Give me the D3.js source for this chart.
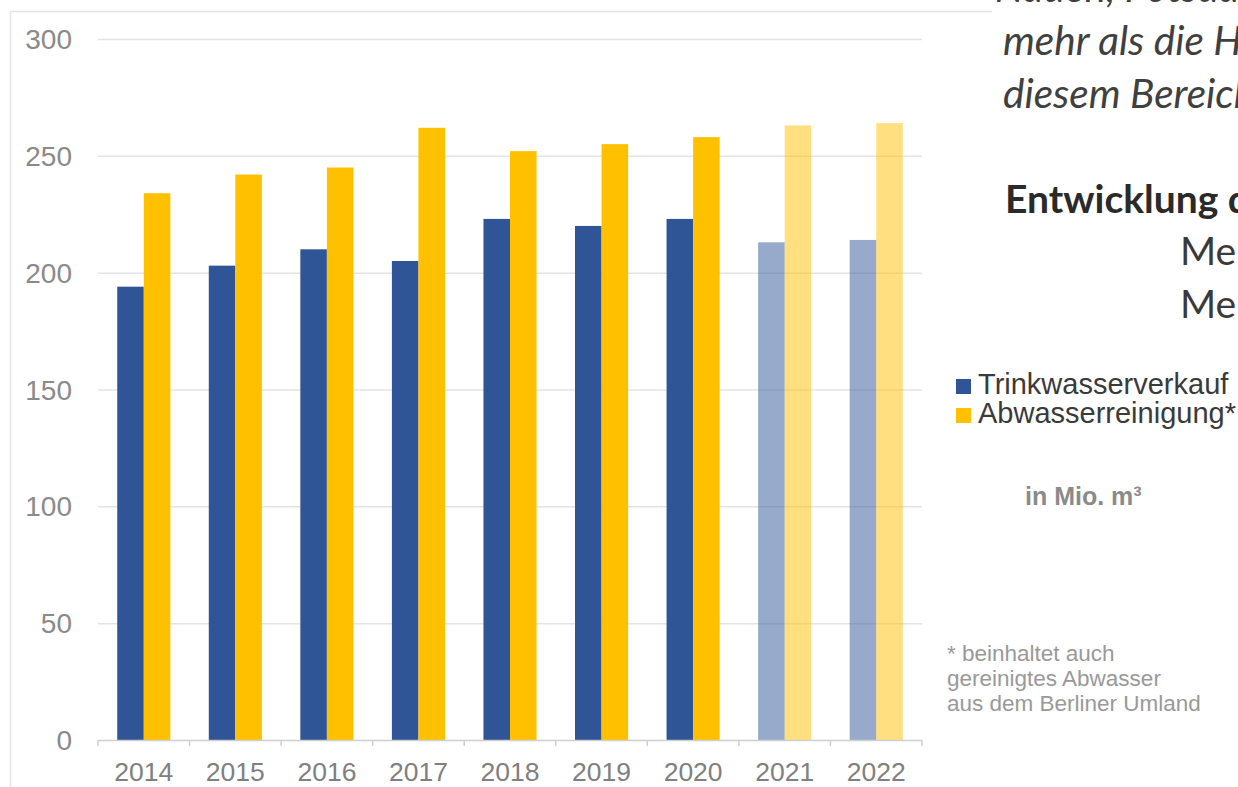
<!DOCTYPE html>
<html>
<head>
<meta charset="utf-8">
<script src="https://cdn.jsdelivr.net/npm/d3@7"></script>
<style>
  html, body { margin: 0; padding: 0; background: #fff; overflow: hidden; }
  svg { display: block; }
</style>
</head>
<body>
<svg id="chart" width="1238" height="787"></svg>
<script>
// ---- data ----
const years = ["2014", "2015", "2016", "2017", "2018", "2019", "2020", "2021", "2022"];
const trinkwasserverkauf = [194, 203, 210, 205, 223, 220, 223, 213, 214];
const abwasserreinigung = [234, 242, 245, 262, 252, 255, 258, 263, 264];
const projectedYears = ["2021", "2022"];
const yTickValues = [0, 50, 100, 150, 200, 250, 300];
const seriesNames = ["Trinkwasserverkauf", "Abwasserreinigung*"];
const unitLabel = "in Mio. m³";
const footnoteLines = ["* beinhaltet auch", "gereinigtes Abwasser", "aus dem Berliner Umland"];
const bodyLines = ["Nauen, Potsdam und", "mehr als die Hälfte", "diesem Bereich"];
const headingLine = "Entwicklung der";
const subLines = ["Mengen", "Mengen"];

const seriesColors = ["#2F5597", "#FFC000"];
const seriesValues = [trinkwasserverkauf, abwasserreinigung];

const svg = d3.select("#chart");

// frame lines
svg.append("line").attr("x1", 10).attr("x2", 992).attr("y1", 11.5).attr("y2", 11.5)
  .attr("stroke", "#e4e4e4").attr("stroke-width", 1.5);
svg.append("line").attr("x1", 10.5).attr("x2", 10.5).attr("y1", 11).attr("y2", 787)
  .attr("stroke", "#e4e4e4").attr("stroke-width", 1.5);

// scales
const x0 = d3.scaleBand().domain(years).range([98, 922]).paddingInner(0).paddingOuter(0);
const groupW = x0.bandwidth() * 0.58;
const x1 = d3.scaleBand().domain(seriesNames).range([0, groupW]).padding(0);
const y = d3.scaleLinear().domain([0, 300]).range([740, 39]);

// gridlines
svg.append("g").selectAll("line")
  .data(yTickValues.filter(v => v > 0))
  .join("line")
  .attr("x1", 98).attr("x2", 922)
  .attr("y1", d => y(d) + 0.5).attr("y2", d => y(d) + 0.5)
  .attr("stroke", "#e4e4e4").attr("stroke-width", 1.5);

// y labels
svg.append("g").selectAll("text")
  .data(yTickValues)
  .join("text")
  .attr("x", 72).attr("y", d => y(d))
  .attr("dy", "0.36em")
  .attr("text-anchor", "end")
  .attr("font-family", "Liberation Sans, Arial, sans-serif")
  .attr("font-size", 28)
  .attr("fill", "#8a8a8a")
  .text(d => d);

// bars
const groups = svg.append("g").selectAll("g")
  .data(years)
  .join("g")
  .attr("transform", d => `translate(${x0(d) + (x0.bandwidth() - groupW) / 2},0)`);

groups.selectAll("rect")
  .data((yr, i) => seriesNames.map((s, k) => ({ yr, s, k, v: seriesValues[k][i] })))
  .join("rect")
  .attr("x", d => x1(d.s))
  .attr("width", x1.bandwidth())
  .attr("y", d => y(d.v))
  .attr("height", d => y(0) - y(d.v))
  .attr("fill", d => seriesColors[d.k])
  .attr("fill-opacity", d => projectedYears.includes(d.yr) ? 0.5 : 1);

// x axis
const xAxis = d3.axisBottom(x0).tickSize(0).tickFormat(d => d);
const ax = svg.append("g").attr("transform", `translate(0,${y(0)})`).call(xAxis);
ax.select(".domain").attr("stroke", "#cfcfcf").attr("stroke-width", 1.5);
ax.selectAll("text")
  .attr("font-family", "Liberation Sans, Arial, sans-serif")
  .attr("font-size", 26.5)
  .attr("fill", "#808080")
  .attr("y", 40.5)
  .attr("dy", 0);
// boundary tick marks
svg.append("g").selectAll("line")
  .data(years.map(d => x0(d)).concat([x0.range()[1]]))
  .join("line")
  .attr("x1", d => d).attr("x2", d => d)
  .attr("y1", y(0)).attr("y2", y(0) + 6)
  .attr("stroke", "#cfcfcf").attr("stroke-width", 1.5);

// legend
const legend = svg.append("g");
seriesNames.forEach((name, k) => {
  const baseY = 394 + k * 29;
  legend.append("rect")
    .attr("x", 956).attr("y", baseY - 15).attr("width", 15).attr("height", 15)
    .attr("fill", seriesColors[k]);
  legend.append("text")
    .attr("x", 978).attr("y", baseY)
    .attr("font-family", "Liberation Sans, Arial, sans-serif")
    .attr("font-size", 29)
    .attr("fill", "#3a3a3a")
    .text(name);
});
legend.append("text")
  .attr("x", 1025).attr("y", 505)
  .attr("font-family", "Liberation Sans, Arial, sans-serif")
  .attr("font-weight", "bold")
  .attr("font-size", 25)
  .attr("fill", "#8a8a8a")
  .text(unitLabel);

// footnote
svg.append("g").selectAll("text")
  .data(footnoteLines)
  .join("text")
  .attr("x", 947).attr("y", (d, i) => 661 + i * 25)
  .attr("font-family", "Liberation Sans, Arial, sans-serif")
  .attr("font-size", 22.5)
  .attr("fill", "#999")
  .text(d => d);

// surrounding document text
svg.append("g").selectAll("text")
  .data(bodyLines)
  .join("text")
  .attr("x", (d, i) => i === 0 ? 995 : 1003)
  .attr("y", (d, i) => 2 + i * 53)
  .attr("font-family", "Lato, 'Open Sans', sans-serif")
  .attr("font-style", "italic")
  .attr("font-size", 40.5)
  .attr("fill", "#404040")
  .text(d => d);

svg.append("text")
  .attr("x", 1005).attr("y", 213)
  .attr("font-family", "Lato, 'Open Sans', sans-serif")
  .attr("font-weight", "bold")
  .attr("font-size", 39)
  .attr("fill", "#2a2a2a")
  .text(headingLine);

svg.append("g").selectAll("text")
  .data(subLines)
  .join("text")
  .attr("x", 1180).attr("y", (d, i) => 265 + i * 53)
  .attr("font-family", "Lato, 'Open Sans', sans-serif")
  .attr("font-size", 39)
  .attr("fill", "#3a3a3a")
  .text(d => d);
</script>
</body>
</html>
